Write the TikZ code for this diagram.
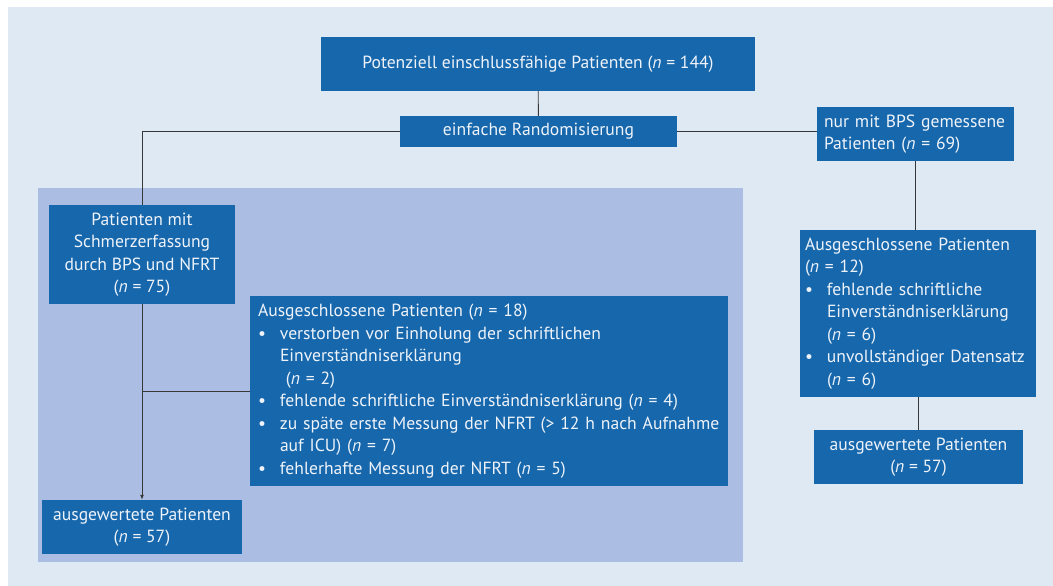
\documentclass[tikz,border=0pt]{standalone}
\usepackage{fontspec}
\setmainfont{PT Sans}
\usepackage{tikz}
\usetikzlibrary{arrows.meta,positioning,calc}

\definecolor{pagebg}{HTML}{DFE9F4}
\definecolor{regionbg}{HTML}{ABBDE3}
\definecolor{boxblue}{HTML}{1767AC}
\definecolor{boxtext}{HTML}{EEF3FA}
\definecolor{linegray}{HTML}{383838}

\newcommand{\nn}[1]{(\textit{n} = #1)}
\newcommand{\bul}{\makebox[22pt][l]{\textbullet}}
\newcommand{\ind}{\hspace*{22pt}}

\begin{document}
\begin{tikzpicture}[x=1pt,y=-1pt,font=\fontsize{17.6}{22.5}\selectfont]
\tikzset{el/.style={rectangle, fill=boxblue, text=boxtext, inner sep=0pt, align=center},
  ln/.style={draw=linegray, line width=0.9pt}}

\useasboundingbox (0,0) rectangle (1053,586);
\fill[pagebg] (8,7) rectangle (1053,586);

% Region of patients measured with BPS and NFRT
\fill[regionbg] (38,188) rectangle (743,562);

% Top
\node[el, minimum width=434, minimum height=54] (pot) at (538,64)
{Potenziell einschlussfähige Patienten \nn{144}};
\node[el, minimum width=277, minimum height=31] (rand) at (538.5,131.5)
{einfache Randomisierung};

% Left branch
\node[el, minimum width=186, minimum height=99] (bpsnfrt) at (142,254.5)
{Patienten mit\\Schmerzerfassung\\durch BPS und NFRT\\\nn{75}};
\node[el, minimum width=478, minimum height=190, text width=462, align=left] (exl) at (489,391)
{Ausgeschlossene Patienten \nn{18}\\
\bul verstorben vor Einholung der schriftlichen\\
\ind Einverständniserklärung\\
\ind\ \nn{2}\\
\bul fehlende schriftliche Einverständniserklärung \nn{4}\\
\bul zu späte erste Messung der NFRT (> 12 h nach Aufnahme\\
\ind auf ICU) \nn{7}\\
\bul fehlerhafte Messung der NFRT \nn{5}};
\node[el, minimum width=200, minimum height=54] (evl) at (142,527)
{ausgewertete Patienten\\\nn{57}};

% Right branch
\node[el, minimum width=197, minimum height=54, text width=183, align=left] (bps) at (915.5,134)
{nur mit BPS gemessene\\Patienten \nn{69}};
\node[el, minimum width=236, minimum height=167, text width=226, align=left] (exr) at (918,313.5)
{Ausgeschlossene Patienten\\
\nn{12}\\
\bul fehlende schriftliche\\
\ind Einverständniserklärung\\
\ind\nn{6}\\
\bul unvollständiger Datensatz\\
\ind\nn{6}};
\node[el, minimum width=209, minimum height=54] (evr) at (918.5,457)
{ausgewertete Patienten\\\nn{57}};

\coordinate (split) at (bpsnfrt.north |- rand);
\coordinate (join) at (bpsnfrt.south |- exl.west);

% Connections
\draw[ln] (pot) -- (rand);
\draw[ln] (rand) -- (split) -- (bpsnfrt);
\draw[ln] (rand.east) -- (rand.east -| bps.west);
\draw[ln] (bps) -- (bps |- exr.north);
\draw[ln] (exr.south -| evr) -- (evr);
\draw[ln, -{Latex[length=5pt,width=4pt]}] (bpsnfrt) -- (evl);
\draw[ln] (join) -- (exl.west);

\end{tikzpicture}
\end{document}
